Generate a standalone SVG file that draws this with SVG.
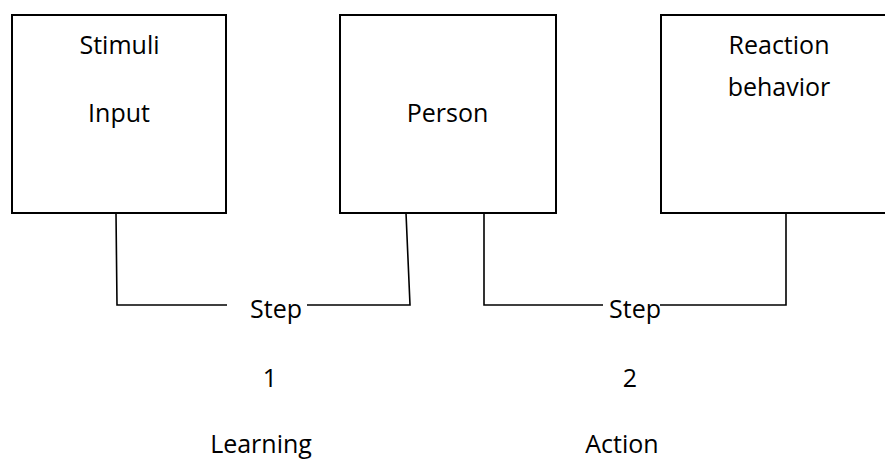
<svg xmlns="http://www.w3.org/2000/svg" width="885" height="459" viewBox="0 0 885 459">
<style>
.box{fill:#fff;stroke:#000;stroke-width:2}
.conn{fill:none;stroke:#000;stroke-width:1.6}
text{font-family:"Open Sans","Liberation Sans",sans-serif;font-size:25px;fill:#000;text-anchor:middle}
</style>
<rect width="885" height="459" fill="#fff"/>
<g id="connectors">
<polyline class="conn" points="116,213 117,305 227,305"/>
<polyline class="conn" points="307,305 410,305 406,213"/>
<polyline class="conn" points="484,213 484,305 603,305"/>
<polyline class="conn" points="660,305 786,305 786,213"/>
</g>
<g id="node-stimuli">
<rect class="box" x="12" y="15" width="214" height="198"/>
<text x="119.5" y="54">Stimuli</text>
<text x="119" y="122">Input</text>
</g>
<g id="node-person">
<rect class="box" x="340" y="15" width="216" height="198"/>
<text x="447.5" y="122">Person</text>
</g>
<g id="node-reaction">
<rect class="box" x="661" y="15" width="230" height="198"/>
<text x="779" y="54">Reaction</text>
<text x="779" y="96">behavior</text>
</g>
<g id="labels">
<text x="276" y="318">Step</text>
<text x="635" y="318">Step</text>
<text x="270" y="387">1</text>
<text x="630" y="387">2</text>
<text x="261" y="453">Learning</text>
<text x="622" y="453">Action</text>
</g>
</svg>
